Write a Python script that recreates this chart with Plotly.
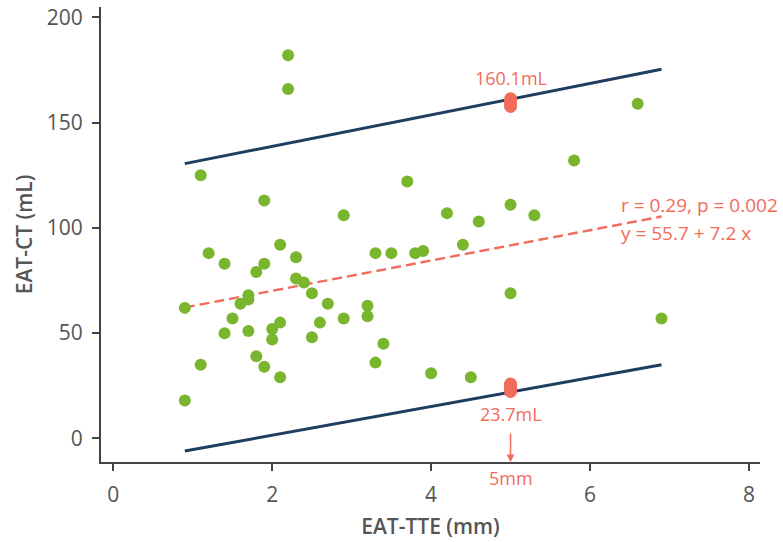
import plotly.graph_objects as go

# Data points (EAT-TTE mm, EAT-CT mL)
tte = [0.9, 0.9, 1.1, 1.1, 1.2, 1.4, 1.4, 1.5, 1.6, 1.7, 1.7, 1.7, 1.8, 1.8,
       1.9, 1.9, 1.9, 2.0, 2.0, 2.1, 2.1, 2.1, 2.2, 2.2, 2.3, 2.3, 2.4, 2.5,
       2.5, 2.6, 2.7, 2.9, 2.9, 3.2, 3.2, 3.3, 3.3, 3.4, 3.5, 3.7, 3.8, 3.9,
       4.0, 4.2, 4.4, 4.5, 4.6, 5.0, 5.0, 5.3, 5.8, 6.6, 6.9]
ct = [18, 62, 125, 35, 88, 83, 50, 57, 64, 68, 66, 51, 79, 39,
      113, 83, 34, 52, 47, 92, 55, 29, 182, 166, 86, 76, 74, 69,
      48, 55, 64, 106, 57, 63, 58, 88, 36, 45, 88, 122, 88, 89,
      31, 107, 92, 29, 103, 111, 69, 106, 132, 159, 57]

# Regression: y = 55.7 + 7.2 x
intercept = 55.7
slope = 7.2
line_x = [0.9, 6.9]
reg_y = [intercept + slope * v for v in line_x]

# Prediction limits
upper_y = [130.5, 175.3]
lower_y = [-6.0, 35.0]

# Highlighted values at 5 mm
cut_x = 5.0
upper_hl = [157.7, 158.9, 160.1, 161.3]
lower_hl = [22.3, 23.5, 24.7, 25.8]
upper_label = "160.1mL"
lower_label = "23.7mL"
cut_label = "5mm"
stats_text = "r = 0.29, p = 0.002"
eq_text = "y = 55.7 + 7.2 x"

x_ticks = [0, 2, 4, 6, 8]
y_ticks = [0, 50, 100, 150, 200]

GREEN = "#7ab52e"
NAVY = "#1f3d5f"
RED = "#f26b5b"
FONT = "Open Sans"

fig = go.Figure()
fig.add_trace(go.Scatter(x=line_x, y=upper_y, mode="lines",
                         line=dict(color=NAVY, width=3), hoverinfo="skip"))
fig.add_trace(go.Scatter(x=line_x, y=lower_y, mode="lines",
                         line=dict(color=NAVY, width=3), hoverinfo="skip"))
fig.add_trace(go.Scatter(x=line_x, y=reg_y, mode="lines",
                         line=dict(color=RED, width=2.4, dash="10px,5px"), hoverinfo="skip"))
fig.add_trace(go.Scatter(x=tte, y=ct, mode="markers",
                         marker=dict(color=GREEN, size=12, line=dict(width=0))))
fig.add_trace(go.Scatter(x=[cut_x] * len(upper_hl), y=upper_hl, mode="markers",
                         marker=dict(color=RED, size=13, line=dict(width=0))))
fig.add_trace(go.Scatter(x=[cut_x] * len(lower_hl), y=lower_hl, mode="markers",
                         marker=dict(color=RED, size=13, line=dict(width=0))))

fig.add_annotation(x=cut_x, y=max(upper_hl), text=upper_label, showarrow=False,
                   xanchor="center", yanchor="bottom", yshift=7,
                   font=dict(family=FONT, size=18, color=RED))
fig.add_annotation(x=cut_x, y=min(lower_hl), text=lower_label, showarrow=False,
                   xanchor="center", yanchor="top", yshift=-9,
                   font=dict(family=FONT, size=18, color=RED))
fig.add_annotation(x=cut_x, y=0, yref="paper", ax=0, ay=-30, text="",
                   showarrow=True, arrowhead=2, arrowsize=1, arrowwidth=1.5,
                   arrowcolor=RED, standoff=0)
fig.add_annotation(x=cut_x, y=0, yref="paper", text=cut_label, showarrow=False,
                   xanchor="center", yanchor="top", yshift=-2,
                   font=dict(family=FONT, size=18, color=RED))
fig.add_annotation(x=6.36, y=110.9, text=stats_text, showarrow=False,
                   xanchor="left", yanchor="middle",
                   font=dict(family=FONT, size=19, color=RED))
fig.add_annotation(x=6.36, y=97.6, text=eq_text, showarrow=False,
                   xanchor="left", yanchor="middle",
                   font=dict(family=FONT, size=19, color=RED))

axis_common = dict(showline=True, linecolor="#444", linewidth=2,
                   ticks="outside", ticklen=7, tickwidth=2, tickcolor="#444",
                   showgrid=False, zeroline=False, automargin=False,
                   tickfont=dict(family=FONT, size=21, color="#555"))

fig.update_xaxes(range=[-0.155, 8.14], tickvals=x_ticks, ticklabelstandoff=6,
                 title=dict(text="EAT-TTE (mm)", standoff=12,
                            font=dict(family=FONT, size=21, color="#555", weight=600)),
                 **axis_common)
fig.update_yaxes(range=[-11.2, 204.9], tickvals=y_ticks, ticklabelstandoff=5,
                 title=dict(text="EAT-CT (mL)", standoff=8,
                            font=dict(family=FONT, size=21, color="#555", weight=600)),
                 **axis_common)

fig.update_layout(width=783, height=542, showlegend=False,
                  margin=dict(l=101, r=23, t=7, b=80),
                  plot_bgcolor="white", paper_bgcolor="white")

fig.write_html("out.html", config={"displayModeBar": False},
               post_script="document.body.style.margin='0';")
